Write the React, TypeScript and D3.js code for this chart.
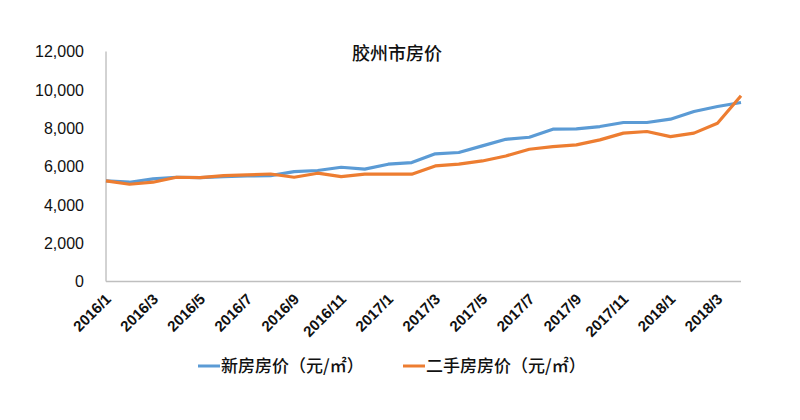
import React from "react";
import * as d3 from "d3";

const months = [
  "2016/1","2016/2","2016/3","2016/4","2016/5","2016/6","2016/7","2016/8","2016/9","2016/10","2016/11","2016/12",
  "2017/1","2017/2","2017/3","2017/4","2017/5","2017/6","2017/7","2017/8","2017/9","2017/10","2017/11","2017/12",
  "2018/1","2018/2","2018/3","2018/4",
];
const newPrice = [
  5250, 5180, 5350, 5440, 5420, 5470, 5510, 5525, 5735, 5790, 5960, 5860,
  6120, 6205, 6660, 6730, 7075, 7420, 7525, 7945, 7960, 8085, 8295, 8295,
  8470, 8870, 9130, 9340,
];
const usedPrice = [
  5250, 5075, 5180, 5440, 5420, 5525, 5560, 5610, 5440, 5650, 5475, 5600,
  5600, 5600, 6030, 6120, 6290, 6550, 6900, 7040, 7130, 7390, 7740, 7825,
  7560, 7740, 8260, 9690,
];
const yTicks = [0, 2000, 4000, 6000, 8000, 10000, 12000];
const title = "胶州市房价";
const seriesNames = ["新房房价（元/㎡）", "二手房房价（元/㎡）"];
const colors = ["#5b9bd5", "#ed7d31"];

export default function App() {
  const W = 800, H = 420;
  const x = d3.scalePoint<string>().domain(months).range([106, 741]);
  const y = d3.scaleLinear().domain([0, 12000]).range([281.5, 51.5]);
  const line = d3
    .line<number>()
    .x((_, i) => x(months[i]) as number)
    .y((d) => y(d));
  const fmt = d3.format(",");
  const labelMonths = months.filter((_, i) => i % 2 === 0);
  const cjk = "'Noto Sans CJK SC', sans-serif";

  return (
    <svg width={W} height={H} style={{ position: "absolute", left: 0, top: 0, background: "#fff" }}>
      <rect width={W} height={H} fill="#fff" />
      <text x={397} y={60} textAnchor="middle" fontFamily={cjk} fontSize={18} fontWeight={500} fill="#111">
        {title}
      </text>
      {/* y axis */}
      <line x1={106} x2={106} y1={y(12000)} y2={y(0)} stroke="#a6a6a6" strokeWidth={1} />
      {yTicks.map((t) => (
        <text
          key={t}
          x={84}
          y={y(t)}
          dy="0.36em"
          textAnchor="end"
          fontFamily="'Liberation Sans', Arial, sans-serif"
          fontSize={16}
          fill="#111"
        >
          {fmt(t)}
        </text>
      ))}
      {/* x axis */}
      <line x1={106} x2={741} y1={y(0)} y2={y(0)} stroke="#bfbfbf" strokeWidth={1.5} />
      {labelMonths.map((m) => {
        const px = (x(m) as number) + 6;
        const py = 300;
        return (
          <text
            key={m}
            x={px}
            y={py}
            textAnchor="end"
            transform={`rotate(-45 ${px} ${py})`}
            fontFamily="'Liberation Sans', Arial, sans-serif"
            fontWeight="bold"
            fontSize={15}
            fill="#111"
          >
            {m}
          </text>
        );
      })}
      <path d={line(newPrice) || ""} fill="none" stroke={colors[0]} strokeWidth={3.2} strokeLinejoin="round" />
      <path d={line(usedPrice) || ""} fill="none" stroke={colors[1]} strokeWidth={3.2} strokeLinejoin="round" />
      {/* legend */}
      {[198, 403].map((lx, i) => (
        <g key={i}>
          <line x1={lx} x2={lx + 22} y1={366} y2={366} stroke={colors[i]} strokeWidth={3} />
          <text x={lx + 23} y={366} dy="0.36em" fontFamily={cjk} fontSize={17} fontWeight={500} fill="#111">
            {seriesNames[i]}
          </text>
        </g>
      ))}
    </svg>
  );
}
